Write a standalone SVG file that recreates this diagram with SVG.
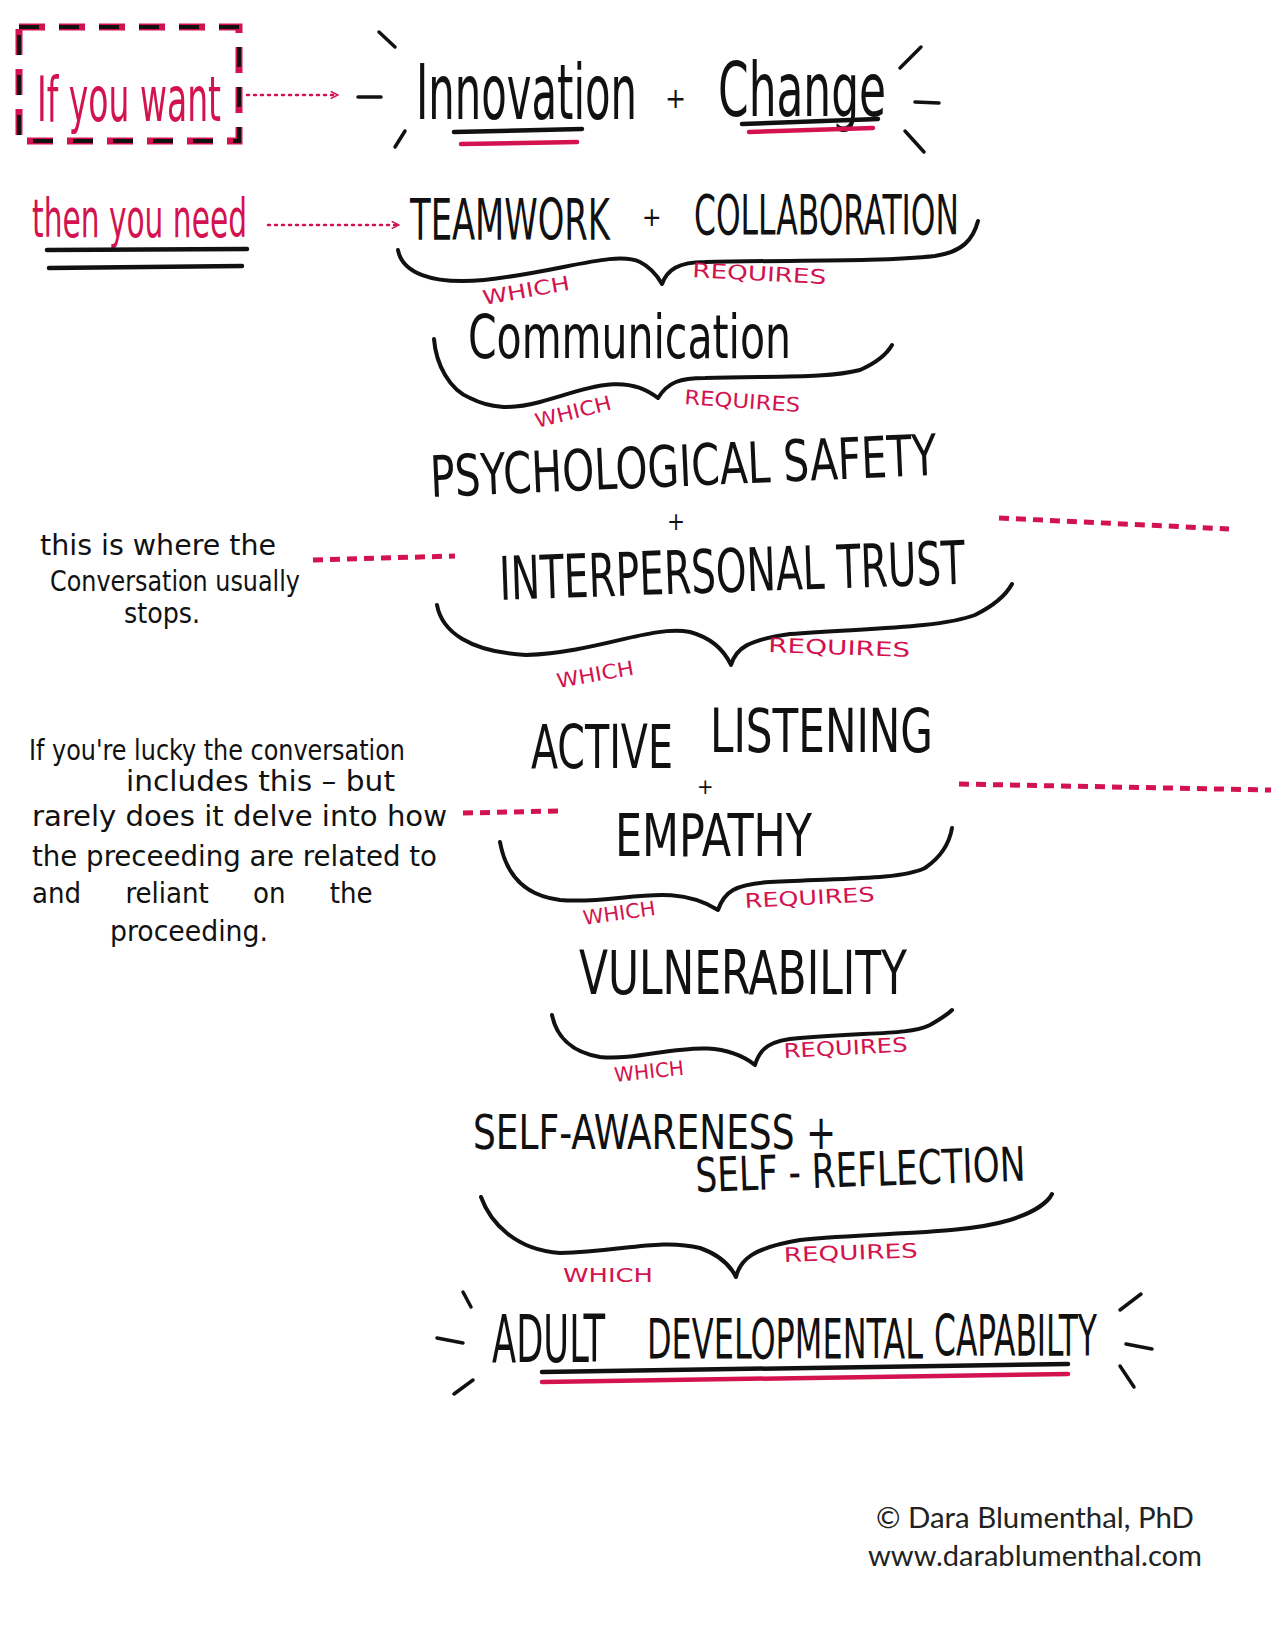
<svg xmlns="http://www.w3.org/2000/svg" width="1275" height="1650" viewBox="0 0 1275 1650">
<defs>
<marker id="chev" viewBox="0 0 10 10" refX="8" refY="5" markerWidth="9" markerHeight="9" markerUnits="userSpaceOnUse" orient="auto">
<path d="M1,1 L9,5 L1,9" fill="none" stroke="#d3134f" stroke-width="1.8"/>
</marker>
<style>
.h{font-family:"DejaVu Sans Condensed","DejaVu Sans",sans-serif;fill:#111}
.r{font-family:"DejaVu Sans Condensed","DejaVu Sans",sans-serif;fill:#d3134f}
.lab{font-family:"DejaVu Sans Condensed","DejaVu Sans",sans-serif;fill:#d3134f;font-size:20px}
.note{font-family:"DejaVu Sans Condensed","DejaVu Sans",sans-serif;fill:#111;font-size:29px}
.brace{fill:none;stroke:#111;stroke-width:4;stroke-linecap:round;stroke-linejoin:round}
.ul{fill:none;stroke:#111;stroke-width:4.5;stroke-linecap:round}
.ulr{fill:none;stroke:#d3134f;stroke-width:4.5;stroke-linecap:round}
.ray{fill:none;stroke:#111;stroke-width:3.5;stroke-linecap:round}
.dot{fill:none;stroke:#d3134f;stroke-width:2.5;stroke-dasharray:2 5;stroke-linecap:round}
.dash{fill:none;stroke:#d3134f;stroke-width:5;stroke-dasharray:10 7}
.copy{font-family:Lato,"Open Sans",sans-serif;fill:#222;font-size:28px}
</style>
</defs>
<rect width="1275" height="1650" fill="#fff"/>

<g id="connectors">
<path class="dot" d="M247,95 L337,95" marker-end="url(#chev)"/>
<path class="dot" d="M268,225 L398,225" marker-end="url(#chev)"/>
<path class="dash" d="M313,560 L455,556"/>
<path class="dash" d="M999,518 L1229,529"/>
<path class="dash" d="M463,813 L558,811"/>
<path class="dash" d="M959,784 L1271,790"/>
<path class="brace" d="M398,250 C402,272 430,285 484,280 C560,272 615,250 640,262 C652,268 658,277 662,284 C667,270 678,262 705,262 C790,260 880,262 935,256 C962,252 973,240 978,221"/>
<path class="brace" d="M434,339 C436,365 450,390 470,398 C490,408 510,410 540,402 C590,388 625,372 658,398 C668,382 680,378 705,378 C780,376 830,378 860,370 C878,362 888,352 892,345"/>
<path class="brace" d="M437,605 C442,632 470,652 526,655 C600,652 650,625 690,632 C712,638 724,650 731,665 C736,648 748,640 790,634 C870,628 940,628 975,615 C995,605 1006,595 1012,584"/>
<path class="brace" d="M500,842 C505,870 520,895 560,900 C620,905 670,880 718,910 C724,892 735,884 770,882 C840,878 900,880 925,868 C944,855 950,840 952,828"/>
<path class="brace" d="M552,1015 C556,1035 570,1052 600,1057 C650,1062 710,1030 755,1065 C760,1048 770,1040 800,1038 C870,1032 910,1035 930,1025 C944,1017 950,1012 952,1010"/>
<path class="brace" d="M481,1197 C490,1222 515,1250 560,1253 C620,1252 660,1238 700,1248 C720,1255 730,1265 736,1277 C740,1260 752,1248 800,1240 C880,1232 960,1235 1010,1220 C1035,1212 1048,1202 1052,1194"/>
</g>

<g id="want">
<rect x="19" y="27" width="220" height="114" fill="none" stroke="#d3134f" stroke-width="7" stroke-dasharray="26 14"/>
<rect x="19" y="27" width="220" height="114" fill="none" stroke="#111" stroke-width="4" stroke-dasharray="20 20"/>
<text class="r" transform="translate(37,121) scale(1,1.75)" font-size="36" textLength="184" lengthAdjust="spacingAndGlyphs">If you want</text>
</g>

<g id="need">
<text class="r" transform="translate(32,237) scale(1,1.6)" font-size="33" textLength="215" lengthAdjust="spacingAndGlyphs">then you need</text>
<path class="ul" d="M47,250 L247,249"/>
<path class="ul" d="M49,268 L242,266"/>
</g>

<g id="innovation">
<text class="h" transform="translate(416,119) scale(1,1.65)" font-size="46" textLength="221" lengthAdjust="spacingAndGlyphs">Innovation</text>
<text class="h" x="665" y="108" font-size="28">+</text>
<text class="h" transform="translate(718,116) scale(1,1.55)" font-size="48" textLength="168" lengthAdjust="spacingAndGlyphs">Change</text>
<path class="ul" d="M454,132 L582,129"/>
<path class="ulr" d="M461,144 L577,142"/>
<path class="ul" d="M742,124 L878,119"/>
<path class="ulr" d="M749,132 L873,128"/>
<path class="ray" d="M379,32 L395,47"/>
<path class="ray" d="M358,97 L381,97"/>
<path class="ray" d="M395,147 L405,131"/>
<path class="ray" d="M900,68 L921,47"/>
<path class="ray" d="M915,102 L939,103"/>
<path class="ray" d="M905,131 L924,152"/>
</g>

<g id="teamwork">
<text class="h" transform="translate(410,240) scale(1,1.55)" font-size="37" textLength="200" lengthAdjust="spacingAndGlyphs">TEAMWORK</text>
<text class="h" x="642" y="226" font-size="26">+</text>
<text class="h" transform="translate(694,234) scale(1,1.6)" font-size="34" textLength="265" lengthAdjust="spacingAndGlyphs">COLLABORATION</text>
<text class="lab" transform="translate(484,305) rotate(-10)" textLength="88" lengthAdjust="spacingAndGlyphs">WHICH</text>
<text class="lab" transform="translate(692,277) rotate(3)" textLength="134" lengthAdjust="spacingAndGlyphs">REQUIRES</text>
</g>

<g id="communication">
<text class="h" transform="translate(468,358) scale(1,1.35)" font-size="45" textLength="323" lengthAdjust="spacingAndGlyphs">Communication</text>
<text class="lab" transform="translate(537,428) rotate(-14)" textLength="78" lengthAdjust="spacingAndGlyphs">WHICH</text>
<text class="lab" transform="translate(684,404) rotate(4)" textLength="116" lengthAdjust="spacingAndGlyphs">REQUIRES</text>
</g>

<g id="psych">
<text class="h" transform="translate(431,497) rotate(-2.5) scale(1,1.3)" font-size="44" textLength="507" lengthAdjust="spacingAndGlyphs">PSYCHOLOGICAL SAFETY</text>
<text class="h" x="667" y="530" font-size="24">+</text>
<text class="h" transform="translate(500,600) rotate(-2) scale(1,1.4)" font-size="43" textLength="466" lengthAdjust="spacingAndGlyphs">INTERPERSONAL TRUST</text>
<text class="lab" transform="translate(558,688) rotate(-10)" textLength="78" lengthAdjust="spacingAndGlyphs">WHICH</text>
<text class="lab" transform="translate(768,652) rotate(2)" textLength="142" lengthAdjust="spacingAndGlyphs">REQUIRES</text>
</g>

<g id="note1">
<text class="note" x="40" y="555" textLength="236" lengthAdjust="spacingAndGlyphs">this is where the</text>
<text class="note" x="50" y="591" textLength="250" lengthAdjust="spacingAndGlyphs">Conversation usually</text>
<text class="note" x="124" y="623" textLength="76" lengthAdjust="spacingAndGlyphs">stops.</text>
</g>

<g id="active">
<text class="h" transform="translate(531,768) scale(1,1.4)" font-size="43" textLength="142" lengthAdjust="spacingAndGlyphs">ACTIVE</text>
<text class="h" transform="translate(710,752) scale(1,1.3)" font-size="46" textLength="223" lengthAdjust="spacingAndGlyphs">LISTENING</text>
<text class="h" x="697" y="794" font-size="22">+</text>
<text class="h" transform="translate(615,856) scale(1,1.3)" font-size="45" textLength="197" lengthAdjust="spacingAndGlyphs">EMPATHY</text>
<text class="lab" transform="translate(584,925) rotate(-8)" textLength="73" lengthAdjust="spacingAndGlyphs">WHICH</text>
<text class="lab" transform="translate(745,908) rotate(-3)" textLength="130" lengthAdjust="spacingAndGlyphs">REQUIRES</text>
</g>

<g id="note2">
<text class="note" x="29" y="760" textLength="376" lengthAdjust="spacingAndGlyphs">If you're lucky the conversation</text>
<text class="note" x="126" y="791" textLength="269" lengthAdjust="spacingAndGlyphs">includes this – but</text>
<text class="note" x="32" y="826" textLength="415" lengthAdjust="spacingAndGlyphs">rarely does it delve into how</text>
<text class="note" x="32" y="866" textLength="405" lengthAdjust="spacingAndGlyphs">the preceeding are related to</text>
<text class="note" x="32" y="903" word-spacing="36">and reliant on the</text>
<text class="note" x="110" y="941" textLength="158" lengthAdjust="spacingAndGlyphs">proceeding.</text>
</g>

<g id="vulnerability">
<text class="h" transform="translate(579,994) scale(1,1.35)" font-size="45" textLength="328" lengthAdjust="spacingAndGlyphs">VULNERABILITY</text>
<text class="lab" transform="translate(615,1082) rotate(-6)" textLength="70" lengthAdjust="spacingAndGlyphs">WHICH</text>
<text class="lab" transform="translate(784,1058) rotate(-3)" textLength="124" lengthAdjust="spacingAndGlyphs">REQUIRES</text>
</g>

<g id="self">
<text class="h" transform="translate(473,1149) scale(1,1.25)" font-size="39" textLength="363" lengthAdjust="spacingAndGlyphs">SELF-AWARENESS +</text>
<text class="h" transform="translate(696,1192) rotate(-2) scale(1,1.25)" font-size="38" textLength="330" lengthAdjust="spacingAndGlyphs">SELF - REFLECTION</text>
<text class="lab" x="563" y="1282" textLength="90" lengthAdjust="spacingAndGlyphs">WHICH</text>
<text class="lab" transform="translate(784,1262) rotate(-2)" textLength="134" lengthAdjust="spacingAndGlyphs">REQUIRES</text>
</g>

<g id="adult">
<text class="h" transform="translate(492,1362) scale(1,1.8)" font-size="37" textLength="113" lengthAdjust="spacingAndGlyphs">ADULT</text>
<text class="h" transform="translate(647,1358) scale(1,1.6)" font-size="35" textLength="276" lengthAdjust="spacingAndGlyphs">DEVELOPMENTAL</text>
<text class="h" transform="translate(934,1356) scale(1,1.75)" font-size="33" textLength="163" lengthAdjust="spacingAndGlyphs">CAPABILTY</text>
<path class="ul" d="M542,1372 L1068,1364"/>
<path class="ulr" d="M542,1382 L1068,1374"/>
<path class="ray" d="M463,1292 L471,1307"/>
<path class="ray" d="M437,1338 L463,1343"/>
<path class="ray" d="M454,1394 L473,1380"/>
<path class="ray" d="M1120,1310 L1141,1294"/>
<path class="ray" d="M1126,1344 L1152,1349"/>
<path class="ray" d="M1120,1366 L1134,1387"/>
</g>

<g id="credit">
<text class="copy" x="876" y="1528" textLength="318" lengthAdjust="spacingAndGlyphs">© Dara Blumenthal, PhD</text>
<text class="copy" x="868" y="1566" textLength="334" lengthAdjust="spacingAndGlyphs">www.darablumenthal.com</text>
</g>
</svg>
